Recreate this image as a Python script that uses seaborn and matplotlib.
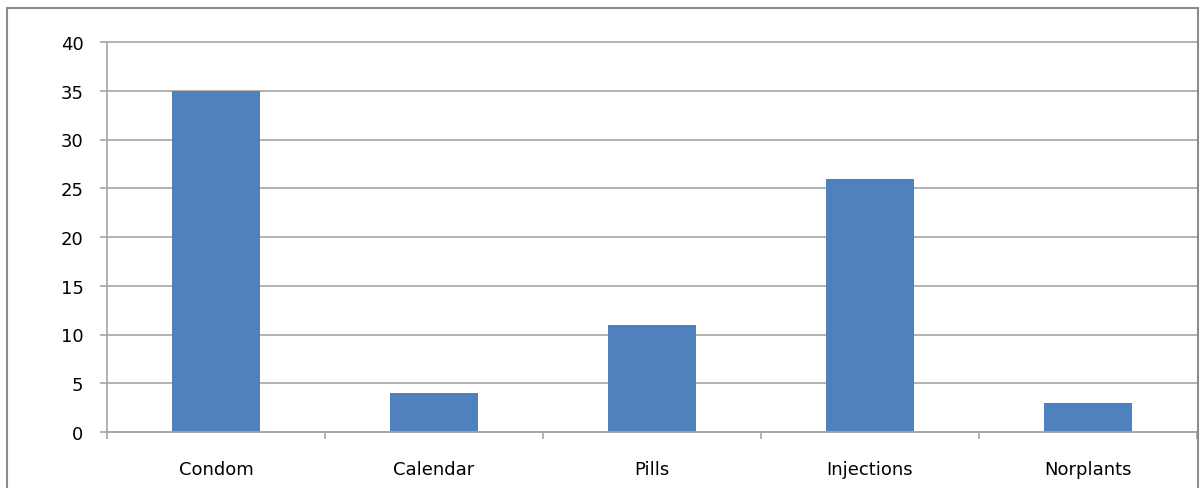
import matplotlib
matplotlib.use("Agg")
import matplotlib.pyplot as plt
import seaborn as sns
from matplotlib.patches import Rectangle
from matplotlib.ticker import MultipleLocator, FixedLocator

methods = ["Condom", "Calendar", "Pills", "Injections", "Norplants"]
counts = [35, 4, 11, 26, 3]

sns.set_style("white")
plt.rcParams["font.family"] = ["DejaVu Sans"]

fig = plt.figure(figsize=(12.01, 4.89), dpi=100)
ax = fig.add_axes([107 / 1201, 1 - 433 / 489, (1197 - 107) / 1201, 390 / 489])

sns.barplot(x=methods, y=counts, color="#4F81BD", width=0.4, saturation=1,
            linewidth=0, ax=ax)

ax.set_ylim(0, 40)
ax.set_xlim(-0.5, len(methods) - 0.5)
ax.yaxis.set_major_locator(MultipleLocator(5))
ax.xaxis.set_minor_locator(FixedLocator([i - 0.5 for i in range(len(methods) + 1)]))
ax.grid(axis="y", color="#A6A6A6", linewidth=1.2)
for gl in ax.get_ygridlines():
    gl.set_clip_on(False)
ax.set_axisbelow(True)

for s in ["top", "right"]:
    ax.spines[s].set_visible(False)
for s in ["left", "bottom"]:
    ax.spines[s].set_color("#A6A6A6")
    ax.spines[s].set_linewidth(1.2)

ax.tick_params(axis="y", length=5, width=1.2, color="#A6A6A6", pad=12, labelsize=13, labelcolor="black", left=True)
ax.tick_params(axis="x", which="major", length=0, pad=20, labelsize=13, labelcolor="black")
ax.tick_params(axis="x", which="minor", length=5, width=1.2, color="#A6A6A6", bottom=True)

fig.patches.append(Rectangle((7 / 1201, -0.02), 1191 / 1201, 1.02 - 9 / 489,
                             transform=fig.transFigure, fill=False,
                             edgecolor="#8C8C8C", linewidth=1.5))

fig.savefig("out.png", dpi=100)
